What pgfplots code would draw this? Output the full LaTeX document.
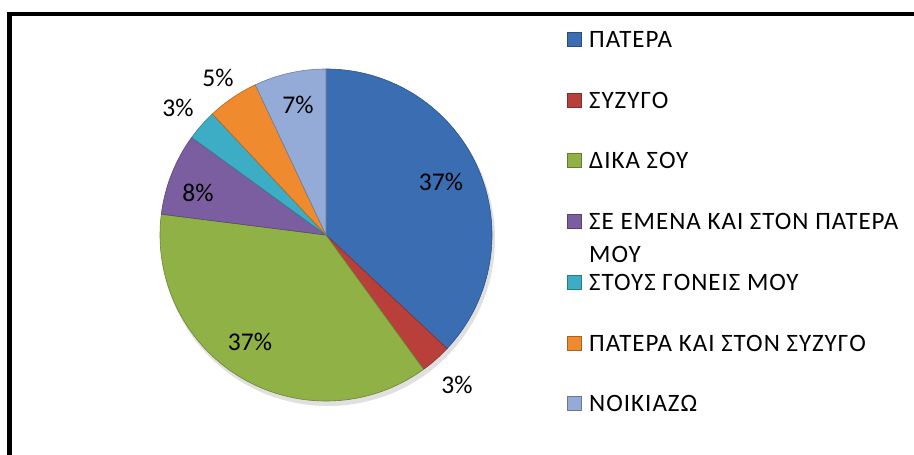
\documentclass[border=0pt]{standalone}
\usepackage{pgfplots}
\pgfplotsset{compat=1.18}
\usepackage{pgfplotstable}
\usepackage{fontspec}
\setmainfont{Carlito}
\newfontfamily\legfam[LetterSpace=4]{Carlito}

\definecolor{col0}{HTML}{3A6DB2}
\definecolor{col1}{HTML}{B9403A}
\definecolor{col2}{HTML}{8FB145}
\definecolor{col3}{HTML}{7A5E9F}
\definecolor{col4}{HTML}{3DADC6}
\definecolor{col5}{HTML}{EF8A2F}
\definecolor{col6}{HTML}{93ABD6}

% value (%), label position (pixel x, pixel y from top)
\pgfplotstableread{
v  lx  ly
37 441 182
3  457 385
37 250 342
8  198 193
3  178 108
5  218 78
7  298 105
}\piedata

\gdef\cum{0}
\foreach \i in {0,...,6}{%
  \pgfplotstablegetelem{\i}{v}\of\piedata
  \let\val\pgfplotsretval
  \pgfmathsetmacro\sa{90-3.6*\cum}%
  \pgfmathsetmacro\newcum{\cum+\val}%
  \pgfmathsetmacro\ea{90-3.6*\newcum}%
  \expandafter\xdef\csname sa\i\endcsname{\sa}%
  \expandafter\xdef\csname ea\i\endcsname{\ea}%
  \expandafter\xdef\csname lv\i\endcsname{\val}%
  \xdef\cum{\newcum}%
  \pgfplotstablegetelem{\i}{lx}\of\piedata
  \expandafter\xdef\csname lx\i\endcsname{\pgfplotsretval}%
  \pgfplotstablegetelem{\i}{ly}\of\piedata
  \pgfmathsetmacro\yy{455-\pgfplotsretval}%
  \expandafter\xdef\csname ly\i\endcsname{\yy}%
}

\begin{document}
\begin{tikzpicture}
\fill[white] (0,0) rectangle (914pt,455pt);
\begin{axis}[
  at={(0,0)}, anchor=south west,
  scale only axis, width=914pt, height=455pt,
  xmin=0, xmax=914, ymin=0, ymax=455,
  axis lines=none, ticks=none, clip=false,
]
% frame (top and left only)
\draw[line width=4.5pt, black] (axis cs:9.5,0) -- (axis cs:9.5,441) -- (axis cs:914,441);

% soft shadow
\fill[black, opacity=0.12] (axis cs:328,216) circle[radius=167pt];

% pie slices
\pgfplotsinvokeforeach{0,...,6}{%
  \edef\tmp{\noexpand\fill[col#1, draw=col#1!75!black, line width=0.6pt]
    (axis cs:326,220) -- ++(\csname sa#1\endcsname:166pt)
    arc[start angle=\csname sa#1\endcsname, end angle=\csname ea#1\endcsname, radius=166pt] -- cycle;}%
  \tmp
}
% data labels
\pgfplotsinvokeforeach{0,...,6}{%
  \edef\tmp{\noexpand\node[font=\noexpand\fontsize{25.5}{30}\noexpand\selectfont, inner sep=0pt]
    at (axis cs:\csname lx#1\endcsname,\csname ly#1\endcsname) {\csname lv#1\endcsname\noexpand\%};}%
  \tmp
}

% legend
\def\legfont{\legfam\fontsize{25}{30}\selectfont}
\foreach \i/\yy/\txt in {0/39/ΠΑΤΕΡΑ, 1/100/ΣΥΖΥΓΟ, 2/160/ΔΙΚΑ ΣΟΥ, 3/221/ΣΕ ΕΜΕΝΑ ΚΑΙ ΣΤΟΝ ΠΑΤΕΡΑ, 4/282/ΣΤΟΥΣ ΓΟΝΕΙΣ ΜΟΥ, 5/343/ΠΑΤΕΡΑ ΚΑΙ ΣΤΟΝ ΣΥΖΥΓΟ, 6/403/ΝΟΙΚΙΑΖΩ}{%
  \edef\tmp{\noexpand\fill[col\i, draw=col\i!70!black, line width=0.5pt]
    (axis cs:567,{455-\yy-7}) rectangle (axis cs:581,{455-\yy+7});
    \noexpand\node[anchor=west, inner sep=0pt, font=\noexpand\legfont] at (axis cs:589,{455-\yy}) {\txt};}%
  \tmp
}
\node[anchor=west, inner sep=0pt, font=\legfont] at (axis cs:589,{455-254}) {ΜΟΥ};
\end{axis}
\pgfresetboundingbox
\path[use as bounding box] (0,0) rectangle (914pt,455pt);
\end{tikzpicture}
\end{document}
